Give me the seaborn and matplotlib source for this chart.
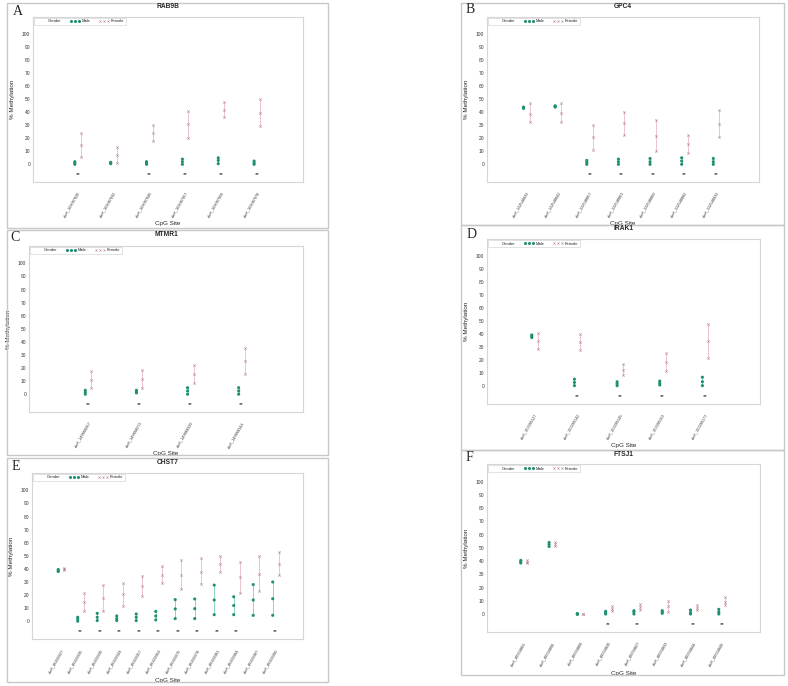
import matplotlib
matplotlib.use("Agg")
import matplotlib.pyplot as plt
import numpy as np
import pandas as pd
import seaborn as sns
from matplotlib.lines import Line2D
from matplotlib.patches import Rectangle

# ---- data: (mean, lower, upper) % methylation per CpG site ----
RAB9B_SITES = ["chrX_103087020", "chrX_103087032", "chrX_103087046",
               "chrX_103087057", "chrX_103087059", "chrX_103087078"]
RAB9B_MALE = [(1, 0, 2), (1, 0.5, 1.5), (1, 0, 2), (2, 0, 4), (3, 0.5, 5), (1, 0, 2.5)]
RAB9B_FEMALE = [(14.9, 5.4, 23.8), (6.9, 0.8, 13), (24, 18, 30),
                (30.8, 20.5, 41.3), (42, 36.4, 47.7), (39.7, 29.5, 50)]
RAB9B_SIG = [1, 0, 1, 1, 1, 1]

GPC4_SITES = ["chrX_132548833", "chrX_132548842", "chrX_132548857", "chrX_132548861",
              "chrX_132548869", "chrX_132548882", "chrX_132548933"]
GPC4_MALE = [(43.5, 43, 44), (44.5, 44, 45), (1.5, 0, 3), (2, 0, 4),
             (2, 0, 4.5), (2.5, 0, 5), (2, 0, 4.5)]
GPC4_FEMALE = [(39, 32.4, 47), (39.5, 32.4, 47), (21, 11, 30.6), (31.4, 22.7, 40),
               (22, 10, 34.4), (15.8, 8.9, 22.2), (31, 21, 42)]
GPC4_SIG = [0, 0, 1, 1, 1, 1, 1]

MTMR1_SITES = ["chrX_149868267", "chrX_149868273", "chrX_149868329", "chrX_149868344"]
MTMR1_MALE = [(1.5, 0, 3), (2, 1, 3), (2.5, 0, 5), (2.5, 0, 5)]
MTMR1_FEMALE = [(11.2, 4.6, 18), (11.5, 4.6, 18.8), (15.8, 8.9, 22.6), (25.7, 15.8, 35.4)]
MTMR1_SIG = [1, 1, 1, 1]

IRAK1_SITES = ["chrX_153285127", "chrX_153285142", "chrX_153285145",
               "chrX_153285153", "chrX_153285177"]
IRAK1_MALE = [(38.5, 37.5, 39.5), (3, 0.5, 5.5), (2, 0.5, 3.5), (2.5, 1, 4), (3.5, 0.5, 7)]
IRAK1_FEMALE = [(35.2, 29, 41.3), (34, 28, 40), (12.5, 9, 16.8), (18.6, 11.5, 26), (35, 22, 48)]
IRAK1_SIG = [0, 1, 1, 1, 1]

CHST7_SITES = ["chrX_46433327", "chrX_46433335", "chrX_46433339", "chrX_46433344",
               "chrX_46433357", "chrX_46433364", "chrX_46433375", "chrX_46433378",
               "chrX_46433381", "chrX_46433384", "chrX_46433387", "chrX_46433390"]
CHST7_MALE = [(38.5, 38, 39.5), (1.5, 0, 3), (3, 0.5, 6), (2, 0.5, 4), (3, 0.5, 5.5),
              (4, 1, 7.5), (9.4, 2, 16.5), (9.6, 2, 17), (16.2, 5, 27.6), (12, 5, 18.7),
              (16.2, 4.5, 28), (17.2, 4.5, 30)]
CHST7_FEMALE = [(39.8, 39.3, 40.3), (14.4, 7.6, 21.5), (17.7, 7.8, 27.6), (20.5, 12, 29),
                (26.8, 19.5, 34.4), (35.7, 29, 42.3), (35.7, 24.6, 46.8), (38, 28.4, 48),
                (44, 38, 50), (33.7, 21.8, 45.6), (36.2, 22.8, 49.6), (44, 35.4, 52.7)]
CHST7_SIG = [0, 1, 1, 1, 1, 1, 1, 1, 1, 1, 0, 1]

FTSJ1_SITES = ["chrX_48334801", "chrX_48334806", "chrX_48334809", "chrX_48334820",
               "chrX_48334827", "chrX_48334833", "chrX_48334844", "chrX_48334849"]
FTSJ1_MALE = [(39.5, 38.5, 40.5), (52.5, 51, 54), (0, -0.3, 0.3), (1, 0, 2),
              (1.5, 0, 2.5), (1.5, 0.5, 2.5), (1, 0, 3), (1.5, 0, 3.5)]
FTSJ1_FEMALE = [(39.5, 38.5, 40.5), (53, 51.5, 54.5), (0, -0.3, 0.3), (4, 2.2, 6),
                (5, 2.7, 7.7), (5.7, 1.5, 9.7), (4.7, 3, 6.5), (9, 6.5, 12.7)]
FTSJ1_SIG = [0, 0, 0, 1, 1, 0, 1, 1]

YTICKS = list(range(0, 101, 10))

MALE_COLOR = "#1f8f73"
MALE_LINE = "#8dd3c6"
FEMALE_COLOR = "#b9848f"
FEMALE_LINE = "#edc2cb"
BORDER = "#c8c8c8"

W, H = 788, 686

# letter, gene, sites, male, female, sig, axes box px, border px, title y, letter xy, xlim margins
PANELS = [
    ("A", "RAB9B", RAB9B_SITES, RAB9B_MALE, RAB9B_FEMALE, RAB9B_SIG,
     (33, 17, 303, 182), (7, 3, 328, 228), 7, (13, 5), (1.25, 1.28)),
    ("B", "GPC4", GPC4_SITES, GPC4_MALE, GPC4_FEMALE, GPC4_SIG,
     (487, 17, 759, 182), (461, 3, 784, 225), 6, (466, 3), (1.25, 1.35)),
    ("C", "MTMR1", MTMR1_SITES, MTMR1_MALE, MTMR1_FEMALE, MTMR1_SIG,
     (29, 246, 303, 412), (7, 230, 328, 455), 235, (10, 231), (1.16, 1.2)),
    ("D", "IRAK1", IRAK1_SITES, IRAK1_MALE, IRAK1_FEMALE, IRAK1_SIG,
     (487, 239, 760, 404), (461, 225, 784, 450), 229, (467, 228), (1.12, 1.28)),
    ("E", "CHST7", CHST7_SITES, CHST7_MALE, CHST7_FEMALE, CHST7_SIG,
     (32, 473, 303, 639), (7, 458, 328, 682), 463, (12, 460), (1.5, 1.4)),
    ("F", "FTSJ1", FTSJ1_SITES, FTSJ1_MALE, FTSJ1_FEMALE, FTSJ1_SIG,
     (487, 464, 760, 632), (461, 450, 784, 675), 455, (466, 451), (1.3, 1.35)),
]


def frac(x0, y0, x1, y1):
    return [x0 / W, 1 - y1 / H, (x1 - x0) / W, (y1 - y0) / H]


def long_frame(stats, xs):
    rows = []
    for x, (mean, lo, hi) in zip(xs, stats):
        for v in (lo, mean, hi):
            rows.append({"x": x, "value": v})
    return pd.DataFrame(rows)


def draw_panel(fig, letter, gene, sites, male, female, sig, box, border, title_y, letter_xy, margins):
    ax = fig.add_axes(frac(*box))
    n = len(sites)
    idx = np.arange(n)
    xmin, xmax = -margins[0], n - 1 + margins[1]
    width_px = box[2] - box[0]
    height_px = box[3] - box[1]
    off = 3.0 / (width_px / (xmax - xmin))

    male_x = idx - off
    female_x = idx + off

    ax.vlines(male_x, [s[1] for s in male], [s[2] for s in male],
              color=MALE_LINE, lw=0.7, zorder=1)
    ax.vlines(female_x, [s[1] for s in female], [s[2] for s in female],
              color=FEMALE_LINE, lw=0.7, zorder=1)

    sns.scatterplot(data=long_frame(male, male_x), x="x", y="value", color=MALE_COLOR,
                    marker="o", s=5, edgecolor="none", legend=False, ax=ax, zorder=3)
    sns.scatterplot(data=long_frame(female, female_x), x="x", y="value", color=FEMALE_COLOR,
                    marker="x", s=3, linewidth=0.4, legend=False, ax=ax, zorder=3)

    for i, s in enumerate(sig):
        if s:
            ax.text(i, -8, "**", ha="center", va="center", fontsize=4.5, color="#222222")

    ax.set_xlim(xmin, xmax)
    ax.set_ylim(-13.6, 113.3)
    ax.set_yticks(YTICKS)
    ax.set_yticklabels([str(t) for t in YTICKS], fontsize=3.5, color="#333333")
    ax.set_xticks(idx)
    ax.set_xticklabels(sites, rotation=60, ha="right", rotation_mode="anchor",
                       fontsize=2.8, color="#333333")
    ax.set_xticks(np.linspace(xmin, xmax, 61), minor=True)
    ax.tick_params(axis="x", which="both", length=1.5, width=0.4, color="#aaaaaa", pad=5)
    ax.tick_params(axis="y", length=0, pad=2)

    ax.set_xlabel("CpG Site", fontsize=4.5)
    ax.set_ylabel("% Methylation", fontsize=4.5)
    ax.xaxis.set_label_coords(0.5, -39 / height_px)
    ax.yaxis.set_label_coords(-18 / width_px, 0.5)

    for sp in ax.spines.values():
        sp.set_color("#d6d6d6")
        sp.set_linewidth(0.8)

    handles = [
        Line2D([], [], linestyle="none", marker=None),
        Line2D([], [], linestyle="none", marker="o", color=MALE_COLOR, markersize=1.2),
        Line2D([], [], linestyle="none", marker="x", color=FEMALE_COLOR,
               markersize=1.5, markeredgewidth=0.4),
    ]
    leg = ax.legend(handles, ["Gender", "Male", "Female"], loc="upper left", ncol=3,
                    numpoints=3, fontsize=3, frameon=True, fancybox=False,
                    edgecolor="#d6d6d6", framealpha=1, borderaxespad=0.25,
                    handlelength=2.6, handletextpad=0.3, columnspacing=2.0, borderpad=0.35)
    leg.get_frame().set_linewidth(0.5)

    fig.add_artist(Rectangle((border[0] / W, 1 - border[3] / H),
                             (border[2] - border[0]) / W, (border[3] - border[1]) / H,
                             transform=fig.transFigure, fill=False,
                             edgecolor=BORDER, linewidth=1))
    fig.text((box[0] + box[2]) / 2 / W, 1 - title_y / H, gene, ha="center", va="center",
             fontsize=4.8, fontweight="bold")
    fig.text(letter_xy[0] / W, 1 - letter_xy[1] / H, letter, ha="left", va="top",
             fontsize=10, family="Liberation Serif")


def main() -> None:
    sns.set_style("white")
    plt.rcParams["font.family"] = ["Liberation Sans", "DejaVu Sans"]

    fig = plt.figure(figsize=(W / 100, H / 100), dpi=100)
    fig.patch.set_facecolor("white")
    for panel in PANELS:
        draw_panel(fig, *panel)

    fig.savefig("out.png", dpi=100)
    plt.close(fig)


if __name__ == "__main__":
    main()
